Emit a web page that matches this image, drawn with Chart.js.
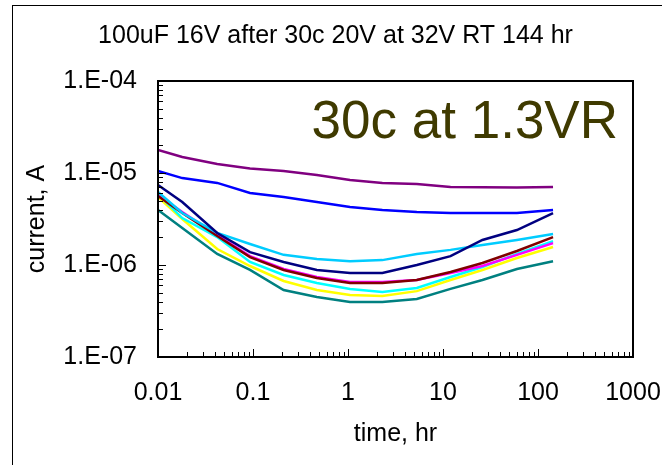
<!DOCTYPE html>
<html>
<head>
<meta charset="utf-8">
<script src="https://cdn.jsdelivr.net/npm/chart.js@4/dist/chart.umd.min.js"></script>
<style>
html,body{margin:0;padding:0;background:#fff;}
#wrap{position:relative;width:662px;height:465px;}
</style>
</head>
<body>
<div id="wrap"><canvas id="c" width="662" height="465"></canvas></div>
<script>
const titleText = "100uF 16V after 30c 20V at 32V RT 144 hr";
const noteText = "30c at 1.3VR";
const xTitle = "time, hr";
const yTitle = "current, A";

const timeHr = [0.01, 0.018, 0.042, 0.093, 0.21, 0.47, 1.05, 2.3, 5.3, 12, 26, 60, 144];

const purple  = [1.78e-5, 1.49e-5, 1.25e-5, 1.12e-5, 1.05e-5, 9.5e-6, 8.4e-6, 7.8e-6, 7.6e-6, 7.05e-6, 7.0e-6, 6.95e-6, 7.05e-6];
const blue    = [1.05e-5, 8.8e-6, 7.8e-6, 6.06e-6, 5.48e-6, 4.84e-6, 4.27e-6, 3.96e-6, 3.77e-6, 3.67e-6, 3.67e-6, 3.67e-6, 3.96e-6];
const navy    = [7.4e-6, 4.84e-6, 2.23e-6, 1.38e-6, 1.08e-6, 8.83e-7, 8.18e-7, 8.18e-7, 1.0e-6, 1.25e-6, 1.87e-6, 2.4e-6, 3.67e-6];
const skyBlue = [6.21e-6, 3.67e-6, 2.23e-6, 1.69e-6, 1.29e-6, 1.16e-6, 1.10e-6, 1.13e-6, 1.32e-6, 1.46e-6, 1.65e-6, 1.87e-6, 2.17e-6];
const maroon  = [5.62e-6, 3.67e-6, 2.07e-6, 1.22e-6, 8.83e-7, 7.22e-7, 6.37e-7, 6.37e-7, 6.87e-7, 8.39e-7, 1.05e-6, 1.42e-6, 2.01e-6];
const magenta = [5.77e-6, 3.77e-6, 2.12e-6, 1.25e-6, 9.05e-7, 7.41e-7, 6.53e-7, 6.53e-7, 6.87e-7, 8.18e-7, 9.75e-7, 1.29e-6, 1.73e-6];
const aqua    = [5.91e-6, 3.24e-6, 2.01e-6, 1.08e-6, 7.78e-7, 6.37e-7, 5.5e-7, 5.09e-7, 5.62e-7, 7.41e-7, 9.51e-7, 1.32e-6, 1.82e-6];
const yellow  = [5.48e-6, 3.16e-6, 1.49e-6, 9.75e-7, 6.7e-7, 5.35e-7, 4.72e-7, 4.6e-7, 5.2e-7, 6.87e-7, 8.83e-7, 1.19e-6, 1.57e-6];
const teal    = [3.96e-6, 2.52e-6, 1.32e-6, 8.83e-7, 5.35e-7, 4.49e-7, 3.96e-7, 3.96e-7, 4.27e-7, 5.5e-7, 6.87e-7, 9.05e-7, 1.10e-6];

const xTickValues = [0.01, 0.1, 1, 10, 100, 1000];
const xTickLabels = ["0.01", "0.1", "1", "10", "100", "1000"];
const yTickValues = [1e-7, 1e-6, 1e-5, 1e-4];
const yTickLabels = ["1.E-07", "1.E-06", "1.E-05", "1.E-04"];

const seriesList = [
  {name: "purple", data: purple, color: "#800080"},
  {name: "blue", data: blue, color: "#0000FF"},
  {name: "navy", data: navy, color: "#000080"},
  {name: "sky", data: skyBlue, color: "#00CCFF"},
  {name: "maroon", data: maroon, color: "#800000"},
  {name: "magenta", data: magenta, color: "#FF00FF"},
  {name: "aqua", data: aqua, color: "#00FFFF"},
  {name: "yellow", data: yellow, color: "#FFFF00"},
  {name: "teal", data: teal, color: "#008080"}
];

const FONT = "'Liberation Sans', Arial, sans-serif";

const framePlugin = {
  id: "frame",
  beforeDraw(chart) {
    const ctx = chart.ctx;
    ctx.save();
    ctx.fillStyle = "#fff";
    ctx.fillRect(0, 0, chart.width, chart.height);
    ctx.strokeStyle = "#000";
    ctx.lineWidth = 1;
    ctx.strokeRect(12.5, 5.5, 800, 600);
    ctx.restore();
  },
  afterDraw(chart) {
    const ctx = chart.ctx;
    const a = chart.chartArea;
    const xs = chart.scales.x, ys = chart.scales.y;
    ctx.save();
    ctx.strokeStyle = "#000";
    ctx.lineWidth = 2;
    ctx.strokeRect(a.left, a.top, a.right - a.left, a.bottom - a.top);
    ctx.lineWidth = 1;
    ctx.beginPath();
    for (let e = -2; e < 3; e++) {
      for (let k = 1; k <= 9; k++) {
        const v = k * Math.pow(10, e);
        const px = Math.round(xs.getPixelForValue(v)) + 0.5;
        const len = k === 1 ? 8 : 5;
        ctx.moveTo(px, a.bottom);
        ctx.lineTo(px, a.bottom - len);
      }
    }
    for (let e = -7; e < -4 + 1; e++) {
      for (let k = 1; k <= 9; k++) {
        const v = k * Math.pow(10, e);
        if (v > 1e-4 * 1.0001) continue;
        const py = Math.round(ys.getPixelForValue(v)) + 0.5;
        const len = k === 1 ? 8 : 5;
        ctx.moveTo(a.left, py);
        ctx.lineTo(a.left + len, py);
      }
    }
    ctx.stroke();
    ctx.fillStyle = "#3F3A00";
    ctx.font = "53px " + FONT;
    ctx.textAlign = "right";
    ctx.textBaseline = "alphabetic";
    ctx.fillText(noteText, 618, 138);
    ctx.restore();
  }
};

new Chart(document.getElementById("c"), {
  type: "line",
  data: {
    datasets: seriesList.map(s => ({
      label: s.name,
      data: timeHr.map((t, i) => ({x: t, y: s.data[i]})),
      borderColor: s.color,
      backgroundColor: s.color,
      borderWidth: 2.5,
      pointRadius: 0,
      tension: 0,
      fill: false
    }))
  },
  options: {
    responsive: false,
    animation: false,
    devicePixelRatio: 1,
    layout: {padding: {left: 38, right: 29, top: 0, bottom: 0}},
    plugins: {
      legend: {display: false},
      tooltip: {enabled: false},
      title: {
        display: true,
        text: titleText,
        color: "#000",
        font: {family: FONT, size: 25, weight: "normal"},
        padding: {top: 21, bottom: 30}
      }
    },
    scales: {
      x: {
        type: "logarithmic",
        min: 0.01,
        max: 1000,
        afterBuildTicks: sc => { sc.ticks = xTickValues.map(v => ({value: v})); },
        afterFit: sc => { sc.height = 108; sc.paddingLeft = 0; sc.paddingRight = 0; },
        grid: {display: false, drawTicks: false},
        border: {display: false},
        ticks: {
          autoSkip: false, maxRotation: 0, color: "#000", padding: 21,
          font: {family: FONT, size: 25},
          callback: (v, i) => xTickLabels[i]
        },
        title: {
          display: true, text: xTitle, color: "#000",
          font: {family: FONT, size: 25}, padding: {top: 0, bottom: 16}
        }
      },
      y: {
        type: "logarithmic",
        min: 1e-7,
        max: 1e-4,
        afterBuildTicks: sc => { sc.ticks = yTickValues.map(v => ({value: v})); },
        afterFit: sc => { sc.width = 120; sc.paddingTop = 0; sc.paddingBottom = 0; },
        grid: {display: false, drawTicks: false},
        border: {display: false},
        ticks: {
          autoSkip: false, color: "#000", padding: 21,
          font: {family: FONT, size: 25},
          callback: (v, i) => yTickLabels[i]
        },
        title: {
          display: true, text: yTitle, color: "#000",
          font: {family: FONT, size: 25}, padding: {top: -16, bottom: 0}
        }
      }
    }
  },
  plugins: [framePlugin]
});
</script>
</body>
</html>
